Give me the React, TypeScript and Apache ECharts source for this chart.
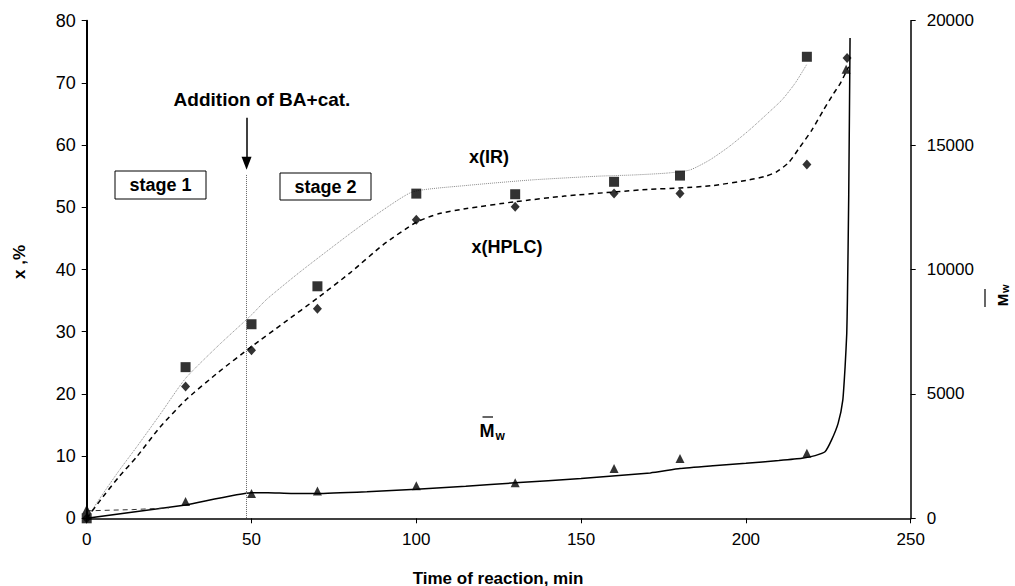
import React, { useEffect, useRef } from "react";
import * as echarts from "echarts";

// measured points: [time (min), conversion %]
const irPoints: [number, number][] = [
  [0, 0], [30, 24.3], [50, 31.2], [70, 37.3], [100, 52.2], [130, 52.1], [160, 54.1], [180, 55.1], [218.5, 74.2],
];
const hplcPoints: [number, number][] = [
  [0, 0], [30, 21.2], [50, 27], [70, 33.7], [100, 48], [130, 50.1], [160, 52.2], [180, 52.2], [218.5, 56.9], [230.7, 74],
];
// Mw (right axis)
const mwPoints: [number, number][] = [
  [0, 360], [30, 680], [50, 1000], [70, 1100], [100, 1310], [130, 1430], [160, 2000], [180, 2400], [218.5, 2610], [230.4, 18050],
];

// fitted curves
const irFit: [number, number][] = [
  [0, 0], [5, 4], [10, 7.8], [15.2, 11.5], [22, 16.5], [30, 22.5], [40, 27.8], [50, 32.7], [54.6, 35.2], [64.7, 39.6],
  [80, 45.8], [90, 49.6], [99, 52.5], [115, 53.5], [135, 54.4], [155, 55], [166, 55.2], [176, 55.5], [183, 56],
  [189, 57.6], [195, 59.8], [201, 62.4], [206, 64.8], [211, 67.3], [215, 70], [218.5, 73],
];
const hplcFit: [number, number][] = [
  [0, 0], [5, 3.5], [10, 6.8], [15.2, 9.9], [22, 14.5], [30, 19], [40, 23.5], [50, 27.6], [60, 31.5], [70, 35.4],
  [80, 39.5], [90, 44], [100, 47.6], [107, 49], [115.3, 49.8], [130, 50.9], [145, 51.8], [160.8, 52.5], [171, 52.9],
  [180, 53.1], [190, 53.5], [201, 54.4], [206, 55], [209.3, 55.7], [213, 57.2], [216.4, 59.7], [220, 62.4], [223.5, 65.6],
  [226.5, 68.2], [228.6, 69.9], [231.2, 72.6],
];
const mwFit: [number, number][] = [
  [0, 0], [30, 535], [50, 1025], [55, 1025], [62, 1000], [70, 1000], [85, 1070], [100, 1165], [115, 1290], [130, 1425],
  [150, 1600], [171, 1825], [180, 2000], [190, 2110], [200, 2210], [210, 2320], [217, 2410], [221, 2520], [224, 2675],
  [226, 3150], [228, 3825], [229.4, 4750], [230.1, 6100], [230.6, 7425], [230.8, 8775], [231.2, 13000], [231.6, 19300],
];
const mwStartDash: [number, number][] = [[0, 300], [14, 350], [25, 420]];

// annotations
const additionTime = 48.5;
const xTicks = { min: 0, max: 250, interval: 50 };
const yLeft = { min: 0, max: 80, interval: 10 };
const yRight = { min: 0, max: 20000, interval: 5000 };

const FONT = "'Liberation Sans', Arial, sans-serif";

export default function App() {
  const ref = useRef<HTMLDivElement>(null);
  useEffect(() => {
    if (!ref.current) return;
    const chart = echarts.init(ref.current, null, { renderer: "svg" });
    const axisBase = {
      axisLine: { show: true, lineStyle: { color: "#000", width: 1.5 } },
      axisTick: { show: true, length: 5, lineStyle: { color: "#000", width: 1 } },
      splitLine: { show: false },
    };
    const bold = { fontFamily: FONT, fontWeight: "bold" as const, fill: "#000" };
    const plain = (v: number) => String(v);
    chart.setOption({
      animation: false,
      backgroundColor: "#fff",
      grid: { left: 86.7, right: 104.3, top: 20.7, bottom: 67.7, containLabel: false },
      xAxis: {
        type: "value",
        ...xTicks,
        ...axisBase,
        axisLabel: { color: "#000", fontSize: 17, fontFamily: FONT, margin: 13, formatter: plain },
      },
      yAxis: [
        {
          type: "value",
          ...yLeft,
          ...axisBase,
          axisLine: { show: true, lineStyle: { color: "#000", width: 2 } },
          axisLabel: { color: "#000", fontSize: 18, fontFamily: FONT, margin: 11, formatter: plain },
        },
        {
          type: "value",
          position: "right",
          ...yRight,
          ...axisBase,
          axisLabel: { color: "#000", fontSize: 17, fontFamily: FONT, margin: 16, formatter: plain },
        },
      ],
      series: [
        {
          type: "line",
          data: irFit,
          showSymbol: false,
          smooth: 0.2,
          lineStyle: { color: "#8a8a8a", width: 1, type: "dotted" },
          silent: true,
          z: 2,
        },
        {
          type: "line",
          data: hplcFit,
          showSymbol: false,
          smooth: 0.2,
          lineStyle: { color: "#000", width: 1.5, type: [5, 4] },
          silent: true,
          z: 2,
        },
        {
          type: "line",
          data: mwFit,
          yAxisIndex: 1,
          showSymbol: false,
          smooth: 0.15,
          lineStyle: { color: "#000", width: 1.5 },
          silent: true,
          z: 2,
        },
        {
          type: "line",
          data: mwStartDash,
          yAxisIndex: 1,
          showSymbol: false,
          lineStyle: { color: "#333", width: 1, type: [5, 4] },
          silent: true,
          z: 2,
        },
        {
          type: "scatter",
          data: irPoints,
          symbol: "rect",
          symbolSize: 10,
          itemStyle: { color: "#000" },
          z: 3,
          markLine: {
            silent: true,
            symbol: ["none", "none"],
            label: { show: false },
            lineStyle: { color: "#666", width: 1, type: [1, 1] },
            data: [[{ coord: [additionTime, 55.2] }, { coord: [additionTime, 0] }]],
          },
        },
        {
          type: "scatter",
          data: hplcPoints,
          symbol: "diamond",
          symbolSize: [9, 10],
          itemStyle: { color: "#000" },
          z: 3,
          markLine: {
            silent: true,
            symbol: ["none", "triangle"],
            symbolSize: [10, 13],
            label: { show: false },
            lineStyle: { color: "#000", width: 1.5, type: "solid" },
            data: [[{ coord: [additionTime, 64.4] }, { coord: [additionTime, 57.1] }]],
          },
        },
        {
          type: "scatter",
          data: mwPoints,
          yAxisIndex: 1,
          symbol: "triangle",
          symbolSize: [9, 9],
          itemStyle: { color: "#000" },
          z: 3,
        },
      ],
      graphic: [
        { type: "text", x: 262, y: 99, style: { ...bold, text: "Addition of BA+cat.", fontSize: 19, textAlign: "center", textVerticalAlign: "middle" } },
        { type: "rect", shape: { x: 115, y: 171, width: 91, height: 28 }, style: { fill: "#fff", stroke: "#000", lineWidth: 1 } },
        { type: "text", x: 160.5, y: 185, style: { ...bold, text: "stage 1", fontSize: 18, textAlign: "center", textVerticalAlign: "middle" } },
        { type: "rect", shape: { x: 280, y: 173, width: 91, height: 27 }, style: { fill: "#fff", stroke: "#000", lineWidth: 1 } },
        { type: "text", x: 325.5, y: 186.5, style: { ...bold, text: "stage 2", fontSize: 18, textAlign: "center", textVerticalAlign: "middle" } },
        { type: "text", x: 489, y: 157, style: { ...bold, text: "x(IR)", fontSize: 18, textAlign: "center", textVerticalAlign: "middle" } },
        { type: "text", x: 507, y: 247, style: { ...bold, text: "x(HPLC)", fontSize: 18, textAlign: "center", textVerticalAlign: "middle" } },
        { type: "text", x: 487, y: 431, style: { ...bold, text: "M", fontSize: 18, textAlign: "center", textVerticalAlign: "middle" } },
        { type: "text", x: 495.5, y: 436, style: { ...bold, text: "w", fontSize: 12, textAlign: "left", textVerticalAlign: "middle" } },
        { type: "line", shape: { x1: 482.5, y1: 417, x2: 493, y2: 417 }, style: { stroke: "#000", lineWidth: 1.2 } },
        {
          type: "text", x: 498, y: 578,
          style: { ...bold, text: "Time of reaction, min", fontSize: 17, textAlign: "center", textVerticalAlign: "middle" },
        },
        {
          type: "text", x: 19, y: 262, rotation: Math.PI / 2,
          style: { ...bold, text: "x ,%", fontSize: 17, textAlign: "center", textVerticalAlign: "middle" },
        },
        {
          type: "group", x: 1002, y: 297, rotation: Math.PI / 2,
          children: [
            { type: "text", x: -3, y: 0, style: { ...bold, text: "M", fontSize: 15, textAlign: "center", textVerticalAlign: "middle" } },
            { type: "text", x: 4, y: 3, style: { ...bold, text: "w", fontSize: 11, textAlign: "left", textVerticalAlign: "middle" } },
            { type: "line", shape: { x1: -10, y1: -17, x2: 8, y2: -17 }, style: { stroke: "#000", lineWidth: 1.2 } },
          ],
        },
      ],
    });
    return () => chart.dispose();
  }, []);
  return (
    <div
      ref={ref}
      style={{ position: "fixed", left: 0, top: 0, width: 1015, height: 586, background: "#fff" }}
    />
  );
}
